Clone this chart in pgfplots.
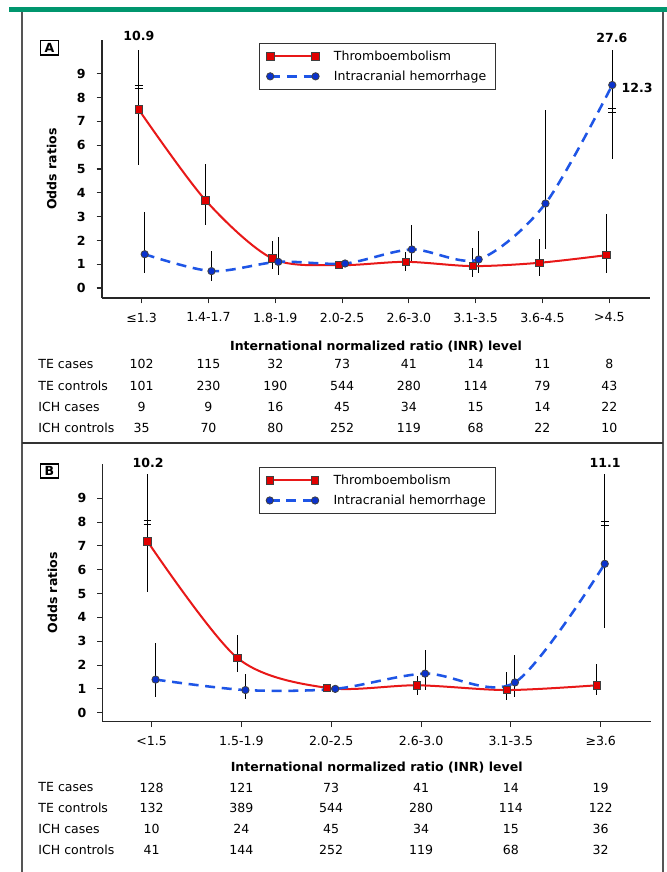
\documentclass[border=0pt]{standalone}
\usepackage{pgfplots}
\pgfplotsset{compat=1.18}
\usepackage{pgfplotstable}
\usepackage{fontspec}
\setmainfont{DejaVu Sans}

\definecolor{topgreen}{RGB}{0,150,110}
\definecolor{teline}{RGB}{232,24,24}
\definecolor{tefill}{RGB}{225,0,0}
\definecolor{ichline}{RGB}{30,85,230}
\definecolor{ichfill}{RGB}{10,50,205}
\definecolor{framegray}{RGB}{85,85,85}
\newcommand\ff{\fontsize{9.4}{11.3}\selectfont}

% odds ratios with 95% CI, as drawn (bars running past the axis stop at 10)
\pgfplotstableread{
i  te    telo  tehi   ich   ichlo  ichhi
0  7.50  5.16  10.00  1.42  0.64   3.20
1  3.69  2.64  5.19   0.71  0.30   1.55
2  1.24  0.78  1.98   1.10  0.54   2.13
3  0.96  0.96  0.96   1.03  1.03   1.03
4  1.10  0.70  1.50   1.62  1.03   2.64
5  0.92  0.47  1.70   1.20  0.61   2.40
6  1.06  0.51  2.04   3.55  1.66   7.47
7  1.38  0.61  3.10   8.53  5.44   10.00
}\orA
\pgfplotstableread{
i  te    telo  tehi   ich   ichlo  ichhi
0  7.19  5.06  10.00  1.39  0.67   2.92
1  2.30  1.69  3.25   0.95  0.56   1.64
2  1.04  1.04  1.04   1.00  1.00   1.00
3  1.15  0.75  1.55   1.64  0.95   2.65
4  0.95  0.53  1.71   1.27  0.67   2.41
5  1.15  0.74  2.03   6.25  3.57   10.00
}\orB
% case / control counts
\pgfplotstableread{
i  tec  tectl  ichc  ichctl
0  102  101    9     35
1  115  230    9     70
2  32   190    16    80
3  73   544    45    252
4  41   280    34    119
5  14   114    15    68
6  11   79     14    22
7  8    43     22    10
}\cntA
\pgfplotstableread{
i  tec  tectl  ichc  ichctl
0  128  132    10    41
1  121  389    24    144
2  73   544    45    252
3  41   280    34    119
4  14   114    15    68
5  19   122    36    32
}\cntB

\pgfplotsset{
  orpanel/.style={
    scale only axis, width=411pt, height=193.5pt, clip=false,
    axis lines=left, axis line style={-, black!85, line width=0.8pt},
    tick align=outside, major tick length=4pt,
    tick style={black!85, line width=0.8pt},
    ytick={0,...,9},
    /pgf/number format/assume math mode=true,
    yticklabel style={font=\ff\bfseries, xshift=-5pt},
    xticklabel style={font=\ff, yshift=-3.75pt},
    ylabel={Odds ratios},
    xlabel={International normalized ratio (INR) level},
    ylabel style={font=\ff\bfseries, at={(axis description cs:-0.0917,0.5)}, anchor=center},
    legend style={draw=black!80, line width=0.8pt, font=\ff, anchor=north west,
      inner xsep=5pt, inner ysep=3.5pt, row sep=2.5pt, cells={anchor=west},
      /tikz/every odd column/.append style={column sep=9pt}},
    legend image code/.code={\draw[mark repeat=2,mark phase=1,#1] plot coordinates {(0pt,0pt) (17pt,0pt) (34pt,0pt)};},
  },
  ciplot/.style={forget plot, only marks, mark=none,
    error bars/.cd, y dir=both, y explicit, error mark=none,
    error bar style={black, solid, line width=0.75pt}},
  teplot/.style={teline, line width=1.5pt, smooth, mark=square*, mark size=2.8pt,
    mark options={solid, fill=tefill, draw=black!75, line width=0.6pt}},
  ichplot/.style={ichline, line width=1.9pt, dash pattern=on 7.5pt off 5pt, smooth,
    mark=*, mark size=2.75pt,
    mark options={solid, fill=ichfill, draw=black!75, line width=0.6pt}},
  cntrow/.style={forget plot, only marks, mark=none, point meta=explicit symbolic,
    nodes near coords, nodes near coords style={font=\ff, anchor=center}},
}

\begin{document}
\ff
\begin{tikzpicture}
\useasboundingbox (0,0) rectangle (500.25pt,-654pt);
\fill[white] (0,0) rectangle (500.25pt,-654pt);

% ---------- panel A ----------
\begin{axis}[orpanel, at={(76.5pt,-223.5pt)}, anchor=south west,
  xmin=-0.594, xmax=7.61, ymin=-0.42, ymax=10.42,
  xtick={0,...,7},
  xticklabels={≤1.3, 1.4-1.7, 1.8-1.9, 2.0-2.5, 2.6-3.0, 3.1-3.5, 3.6-4.5, >4.5},
  xlabel style={font=\ff\bfseries, at={(axis description cs:0.5,-0.19)}, anchor=center},
  legend style={at={(0.287,0.9895)}}]
\addplot[ciplot] table[x expr=\thisrow{i}-0.045, y=te,
  y error plus expr=\thisrow{tehi}-\thisrow{te}, y error minus expr=\thisrow{te}-\thisrow{telo}] {\orA};
\addplot[ciplot] table[x expr=\thisrow{i}+0.045, y=ich,
  y error plus expr=\thisrow{ichhi}-\thisrow{ich}, y error minus expr=\thisrow{ich}-\thisrow{ichlo}] {\orA};
\addplot[teplot] table[x expr=\thisrow{i}-0.045, y=te] {\orA};
\addlegendentry{Thromboembolism}
\addplot[ichplot] table[x expr=\thisrow{i}+0.045, y=ich] {\orA};
\addlegendentry{Intracranial hemorrhage}
% axis breaks on the long bars
\draw[black, line width=0.6pt] (axis cs:-0.105,8.53) -- (axis cs:0.015,8.53)
  (axis cs:-0.105,8.37) -- (axis cs:0.015,8.37)
  (axis cs:6.985,7.55) -- (axis cs:7.105,7.55)
  (axis cs:6.985,7.39) -- (axis cs:7.105,7.39);
\node[font=\ff\bfseries] at (axis cs:-0.043,10.58) {10.9};
\node[font=\ff\bfseries] at (axis cs:7.04,10.5) {27.6};
\node[font=\ff\bfseries, anchor=west] at (axis cs:7.12,8.42) {12.3};
% counts table
\addplot[cntrow] table[x=i, y expr=-3.21, meta=tec] {\cntA};
\addplot[cntrow] table[x=i, y expr=-4.11, meta=tectl] {\cntA};
\addplot[cntrow] table[x=i, y expr=-4.99, meta=ichc] {\cntA};
\addplot[cntrow] table[x=i, y expr=-5.87, meta=ichctl] {\cntA};
\node[anchor=west] at (axis cs:-1.612,-3.21) {TE cases};
\node[anchor=west] at (axis cs:-1.612,-4.11) {TE controls};
\node[anchor=west] at (axis cs:-1.612,-4.99) {ICH cases};
\node[anchor=west] at (axis cs:-1.612,-5.87) {ICH controls};
\end{axis}

% ---------- panel B ----------
\begin{axis}[orpanel, at={(77pt,-541.3pt)}, anchor=south west,
  xmin=-0.544, xmax=5.556, ymin=-0.38, ymax=10.45,
  xtick={0,...,5},
  xticklabels={<1.5, 1.5-1.9, 2.0-2.5, 2.6-3.0, 3.1-3.5, ≥3.6},
  xlabel style={font=\ff\bfseries, at={(axis description cs:0.5,-0.178)}, anchor=center},
  legend style={at={(0.285,0.988)}}]
\addplot[ciplot] table[x expr=\thisrow{i}-0.045, y=te,
  y error plus expr=\thisrow{tehi}-\thisrow{te}, y error minus expr=\thisrow{te}-\thisrow{telo}] {\orB};
\addplot[ciplot] table[x expr=\thisrow{i}+0.045, y=ich,
  y error plus expr=\thisrow{ichhi}-\thisrow{ich}, y error minus expr=\thisrow{ich}-\thisrow{ichlo}] {\orB};
\addplot[teplot] table[x expr=\thisrow{i}-0.045, y=te] {\orB};
\addlegendentry{Thromboembolism}
\addplot[ichplot] table[x expr=\thisrow{i}+0.045, y=ich] {\orB};
\addlegendentry{Intracranial hemorrhage}
\draw[black, line width=0.6pt] (axis cs:-0.089,8.08) -- (axis cs:-0.001,8.08)
  (axis cs:-0.089,7.92) -- (axis cs:-0.001,7.92)
  (axis cs:5.001,8.03) -- (axis cs:5.089,8.03)
  (axis cs:5.001,7.87) -- (axis cs:5.089,7.87);
\node[font=\ff\bfseries] at (axis cs:-0.038,10.49) {10.2};
\node[font=\ff\bfseries] at (axis cs:5.05,10.49) {11.1};
\addplot[cntrow] table[x=i, y expr=-3.14, meta=tec] {\cntB};
\addplot[cntrow] table[x=i, y expr=-4.00, meta=tectl] {\cntB};
\addplot[cntrow] table[x=i, y expr=-4.88, meta=ichc] {\cntB};
\addplot[cntrow] table[x=i, y expr=-5.75, meta=ichctl] {\cntB};
\node[anchor=west] at (axis cs:-1.308,-3.14) {TE cases};
\node[anchor=west] at (axis cs:-1.308,-4.00) {TE controls};
\node[anchor=west] at (axis cs:-1.308,-4.88) {ICH cases};
\node[anchor=west] at (axis cs:-1.308,-5.75) {ICH controls};
\end{axis}

% ---------- page frame ----------
\fill[topgreen] (6.4pt,-5pt) rectangle (500.25pt,-8.8pt);
\draw[framegray, line width=1.4pt] (16.3pt,-8.8pt) -- (16.3pt,-654pt)
  (497.5pt,-8.8pt) -- (497.5pt,-654pt);
\draw[black!80, line width=1.5pt] (16.3pt,-332pt) -- (497.5pt,-332pt);
\node[draw=black, line width=1pt, font=\ff\bfseries, minimum width=13.2pt,
  minimum height=10.7pt, inner sep=0pt] at (37.1pt,-35.9pt) {A};
\node[draw=black, line width=1pt, font=\ff\bfseries, minimum width=13.2pt,
  minimum height=10.7pt, inner sep=0pt] at (37.1pt,-353.25pt) {B};
\end{tikzpicture}
\end{document}
